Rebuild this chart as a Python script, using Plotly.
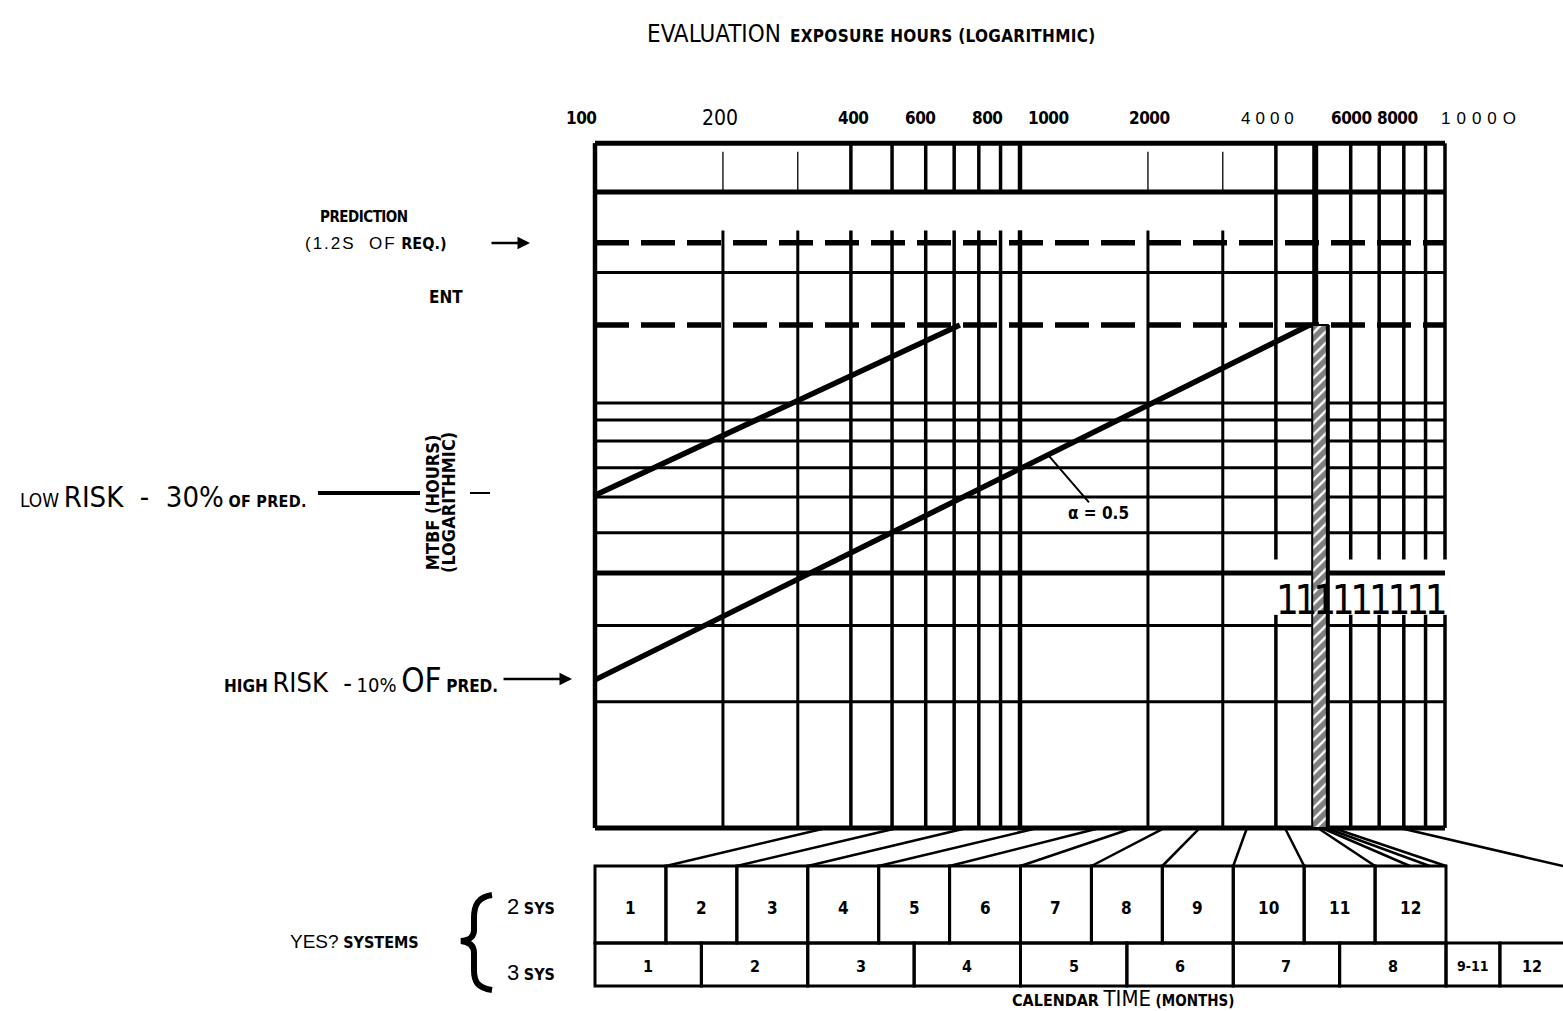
import math
import plotly.graph_objects as go

W, H = 1563, 1011

# ---------------- data ----------------
# top exposure-hour scale
tick_hours = [100, 200, 400, 600, 800, 1000, 2000, 4000, 6000, 8000, 10000]
tick_labels = ["100", "200", "400", "600", "800", "1000", "2000", "4000", "6000", "8000", "1000O"]

# vertical rulings of the log paper (exposure hours)
rule_hours_band = [100, 400, 500, 600, 700, 800, 900, 1000]
rule_hours_fine = [200, 300, 2000, 3000]
rule_hours_right = [4000, 6000, 7000, 8000, 9000, 10000]

# MTBF (hours) levels
band_top, band_bottom = 290, 218
field_top, field_bottom = 174, 5.25
fine_tick_top = 276
gap_hi, gap_lo = 25.3, 18.3
prediction = 162
requirement = 100
mtbf_rules = [136, 63.3, 57.3, 50.7, 43.3, 36.5, 29.6, 17.2, 11.0]
mtbf_heavy_rule = 23.4

# growth curves (alpha = 0.5)
low_risk_hours = [100, 722]
low_risk_mtbf = [36.9, 100]
high_risk_hours = [100, 4800]
high_risk_mtbf = [12.5, 100]

# evaluation column
eval_hours = [4870, 5300]
eval_line_hours = 4950

# calendar mapping (hours at month boundary -> month boundary, 2 systems)
fan_hours = [350, 515, 750, 1100, 1540, 1845, 2190, 2650, 3420, 4200, 5020, 5130, 5250, 5450, 7830]
fan_months = [1, 2, 3, 4, 5, 6, 7, 8, 9, 10, 11, 11.49, 11.77, 12, 13.65]

months_2sys = ["1", "2", "3", "4", "5", "6", "7", "8", "9", "10", "11", "12"]
edges_2sys = [0, 1, 2, 3, 4, 5, 6, 7, 8, 9, 10, 11, 12]
months_3sys = ["1", "2", "3", "4", "5", "6", "7", "8", "9-11", "12"]
edges_3sys = [0, 1.5, 3, 4.5, 6, 7.5, 9, 10.5, 12, 12.76, 14.4]

# ---------------- axes geometry ----------------
X_LO, X_HI = 2 - 595 / 425, 2 + (W - 595) / 425          # log10 hours
Y_LO, Y_HI = 2 - (H - 325) / 393, 2 + 325 / 393          # log10 MTBF
M_PER = (1446 - 595) / 12
M_LO, M_HI = -595 / M_PER, (W - 595) / M_PER             # months (2 sys)


def PX(x):
    return x / W


def PY(y):
    return 1 - y / H


def month_to_hours(m):
    f = (m - M_LO) / (M_HI - M_LO)
    return 10 ** (X_LO + f * (X_HI - X_LO))


def paper_to_mtbf(p):
    return 10 ** (Y_LO + p * (Y_HI - Y_LO))


NARROW = "Liberation Sans Narrow, Arial Narrow, DejaVu Sans Condensed, sans-serif"
HEAVY = "DejaVu Sans Condensed, DejaVu Sans, sans-serif"
REG = "Liberation Sans, Arial, sans-serif"

fig = go.Figure()


def seg_trace(xs_pairs, ys_pairs, width, dash=None, color="black"):
    xs, ys = [], []
    for (xa, xb), (ya, yb) in zip(xs_pairs, ys_pairs):
        xs += [xa, xb, None]
        ys += [ya, yb, None]
    fig.add_trace(go.Scatter(x=xs, y=ys, mode="lines",
                             line=dict(color=color, width=width, dash=dash),
                             hoverinfo="skip", showlegend=False))


x_min, x_max = tick_hours[0], tick_hours[-1]

# top band frame
seg_trace([(x_min, x_max)] * 2, [(band_top, band_top), (band_bottom, band_bottom)], 5)

# vertical rulings
vx, vy = [], []
for h in rule_hours_band:
    vx += [(h, h), (h, h)]
    vy += [(band_top, band_bottom), (field_top, field_bottom)]
seg_trace(vx, vy, 3.5)
seg_trace([(x_min, x_min)], [(band_top, field_bottom)], 4.5)
seg_trace([(1000, 1000), (1000, 1000)], [(band_top, band_bottom), (field_top, field_bottom)], 4.5)

vx, vy = [], []
for h in rule_hours_fine:
    vx += [(h, h), (h, h)]
    vy += [(fine_tick_top, band_bottom), (field_top, field_bottom)]
seg_trace(vx[0::2], vy[0::2], 1.3)
seg_trace(vx[1::2], vy[1::2], 3)

vx, vy = [], []
for h in rule_hours_right:
    vx += [(h, h), (h, h)]
    vy += [(band_top, gap_hi), (gap_lo, field_bottom)]
seg_trace(vx, vy, 3.5)

# horizontal rulings
seg_trace([(x_min, x_max)] * len(mtbf_rules), [(v, v) for v in mtbf_rules], 3)
seg_trace([(x_min, x_max)] * 2, [(mtbf_heavy_rule,) * 2, (field_bottom,) * 2], 5)

# prediction and requirement dashed levels
seg_trace([(x_min, x_max)] * 2, [(prediction,) * 2, (requirement,) * 2], 5.5, dash="34px,12px")

# growth curves
seg_trace([(low_risk_hours[0], low_risk_hours[1]), (high_risk_hours[0], high_risk_hours[1])],
          [(low_risk_mtbf[0], low_risk_mtbf[1]), (high_risk_mtbf[0], high_risk_mtbf[1])], 5.5)

# evaluation column (hatched)
fig.add_trace(go.Scatter(
    x=[eval_hours[0], eval_hours[1], eval_hours[1], eval_hours[0], eval_hours[0]],
    y=[requirement, requirement, field_bottom, field_bottom, requirement],
    mode="lines", fill="toself", line=dict(color="black", width=2),
    fillcolor="white",
    fillpattern=dict(shape="/", fgcolor="black", bgcolor="white", size=8, solidity=0.7),
    hoverinfo="skip", showlegend=False))
seg_trace([(eval_hours[1], eval_hours[1])], [(requirement, field_bottom)], 4)
seg_trace([(eval_line_hours, eval_line_hours)], [(band_top, requirement)], 6)

# fan lines to calendar boxes
box_top_px, row_split_px, box_bot_px = 866, 943, 986
y_box_top = paper_to_mtbf(PY(box_top_px))
fx, fy = [], []
for h, m in zip(fan_hours, fan_months):
    fx.append((h, month_to_hours(m)))
    fy.append((field_bottom, y_box_top))
seg_trace(fx, fy, 2.5)

# dummy trace so the calendar axis exists
fig.add_trace(go.Scatter(x=[0], y=[10], xaxis="x2", yaxis="y", mode="markers",
                         marker=dict(opacity=0), hoverinfo="skip", showlegend=False))

shapes = []
# calendar boxes 2 systems
for a, b in zip(edges_2sys[:-1], edges_2sys[1:]):
    shapes.append(dict(type="rect", xref="x2", yref="paper", x0=a, x1=b,
                       y0=PY(row_split_px), y1=PY(box_top_px),
                       line=dict(color="black", width=3)))
for a, b in zip(edges_3sys[:-1], edges_3sys[1:]):
    shapes.append(dict(type="rect", xref="x2", yref="paper", x0=a, x1=b,
                       y0=PY(box_bot_px), y1=PY(row_split_px),
                       line=dict(color="black", width=3)))

# brace
bp = [(492, 895), (478, 897), (474, 905), (474, 918), (474, 930), (474, 937), (470, 940), (461, 941),
      (470, 942), (474, 946), (474, 953), (474, 970), (474, 982), (478, 988), (492, 990)]
P = [f"{PX(x):.5f},{PY(y):.5f}" for x, y in bp]
path = (f"M {P[0]} C {P[1]} {P[2]} {P[3]} L {P[4]} C {P[5]} {P[6]} {P[7]} "
        f"C {P[8]} {P[9]} {P[10]} L {P[11]} C {P[12]} {P[13]} {P[14]}")
shapes.append(dict(type="path", xref="paper", yref="paper", path=path,
                   line=dict(color="black", width=6)))

# leader lines on the left
shapes.append(dict(type="line", xref="paper", yref="paper", x0=PX(318), x1=PX(420),
                   y0=PY(493), y1=PY(493), line=dict(color="black", width=4)))
shapes.append(dict(type="line", xref="paper", yref="paper", x0=PX(470), x1=PX(490),
                   y0=PY(493), y1=PY(493), line=dict(color="black", width=2)))

ann = []


def txt(x, y, text, size=16, family=NARROW, anchor="left", **kw):
    ann.append(dict(x=PX(x), y=PY(y), xref="paper", yref="paper", text=text, showarrow=False,
                    xanchor=anchor, yanchor="middle", font=dict(family=family, size=size, color="black"), **kw))


def sp(t, family, size, bold=False, ls=None):
    t = f"<b>{t}</b>" if bold else t
    extra = f";letter-spacing:{ls}px" if ls is not None else ""
    return f"<span style='font-family:{family};font-size:{size}px{extra}'>{t}</span>"


# title
txt(645, 34, sp("EVALUATION", NARROW, 24) + "  " + sp("EXPOSURE HOURS (LOGARITHMIC)", HEAVY, 17, True, 0.3))

# tick labels
tick_shift = [-14, -3, 2, -6, 8, 28, 2, -6, 1, -6, 36]
tick_bold = [True, False, True, True, True, True, True, False, True, True, False]
for v, t, s, b in zip(tick_hours, tick_labels, tick_shift, tick_bold):
    if b:
        label = sp(t, HEAVY, 17, True, -0.5)
    elif t == "200":
        label = sp(t, NARROW, 21)
    else:
        label = sp(t, REG, 17, False, 5 if t == "4000" else 6)
    ann.append(dict(x=math.log10(v), y=PY(118), xref="x", yref="paper", text=label,
                    showarrow=False, xshift=s, xanchor="center", yanchor="middle"))

# left labels
txt(318, 217, sp("PREDICTION", HEAVY, 15, True, -0.5))
txt(303, 244, sp("(1.2S  OF", REG, 17, False, 2) + " " + sp("REQ.)", HEAVY, 16, True))
ann.append(dict(x=PX(530), y=PY(243), xref="paper", yref="paper", ax=-40, ay=0, text="",
                showarrow=True, arrowhead=2, arrowsize=1, arrowwidth=2.5, arrowcolor="black"))
txt(427, 297, sp("ENT", HEAVY, 17, True))
txt(18, 497, sp("LOW", NARROW, 19) + " " + sp("RISK  -  30%", NARROW, 29) + " "
    + sp("OF PRED.", HEAVY, 16, True, 0.3))
ann.append(dict(x=PX(440), y=PY(503), xref="paper", yref="paper", textangle=-90, showarrow=False,
                text=sp("MTBF (HOURS)<br>(LOGARITHMIC)", HEAVY, 18, True), xanchor="center", yanchor="middle"))
txt(222, 680, sp("HIGH", HEAVY, 17, True) + " " + sp("RISK  -", NARROW, 27) + " " + sp("10%", NARROW, 20)
    + " " + sp("OF", NARROW, 33) + " " + sp("PRED.", HEAVY, 17, True))
ann.append(dict(x=PX(572), y=PY(679), xref="paper", yref="paper", ax=-70, ay=0, text="",
                showarrow=True, arrowhead=2, arrowsize=1, arrowwidth=2.5, arrowcolor="black"))

# alpha annotation on the growth line
ax_h = 1164
ax_y = 10 ** (math.log10(high_risk_mtbf[0]) + (math.log10(ax_h) - 2) *
              (math.log10(high_risk_mtbf[1]) - math.log10(high_risk_mtbf[0])) /
              (math.log10(high_risk_hours[1]) - 2))
ann.append(dict(x=math.log10(ax_h), y=math.log10(ax_y), xref="x", yref="y", ax=50, ay=58,
                text=sp("α = 0.5", HEAVY, 17, True), showarrow=True, arrowhead=0, arrowwidth=2,
                arrowcolor="black", bgcolor="white", borderpad=0))

txt(1274, 600, sp("111111111", NARROW, 40, False, -4.3))

# bottom labels
txt(288, 941, sp("YES?", REG, 19) + " " + sp("SYSTEMS", HEAVY, 16, True))
txt(505, 906, sp("2", REG, 22) + " " + sp("SYS", HEAVY, 16, True))
txt(505, 972, sp("3", REG, 22) + " " + sp("SYS", HEAVY, 16, True))
txt(1010, 998, sp("CALENDAR", HEAVY, 16, True) + " " + sp("TIME", NARROW, 22) + " "
    + sp("(MONTHS)", HEAVY, 15, True))

for lab, a, b in zip(months_2sys, edges_2sys[:-1], edges_2sys[1:]):
    ann.append(dict(x=(a + b) / 2, y=PY(908), xref="x2", yref="paper", text=sp(lab, HEAVY, 17, True),
                    showarrow=False, xanchor="center", yanchor="middle"))
for lab, a, b in zip(months_3sys, edges_3sys[:-1], edges_3sys[1:]):
    cx = (a + b) / 2 if lab != "12" else a + 0.45
    ann.append(dict(x=cx, y=PY(966), xref="x2", yref="paper",
                    text=sp(lab, HEAVY, 16 if lab != "9-11" else 14, True),
                    showarrow=False, xanchor="center", yanchor="middle"))

fig.update_layout(
    width=W, height=H, margin=dict(l=0, r=0, t=0, b=0),
    paper_bgcolor="white", plot_bgcolor="white", showlegend=False,
    font=dict(color="black", family=HEAVY),
    xaxis=dict(type="log", range=[X_LO, X_HI], visible=False, domain=[0, 1]),
    yaxis=dict(type="log", range=[Y_LO, Y_HI], visible=False, domain=[0, 1]),
    xaxis2=dict(range=[M_LO, M_HI], overlaying="x", visible=False),
    shapes=shapes, annotations=ann,
)

fig.write_html("out.html", config={"displayModeBar": False},
               post_script="document.body.style.margin='0';document.body.style.overflow='hidden';")
